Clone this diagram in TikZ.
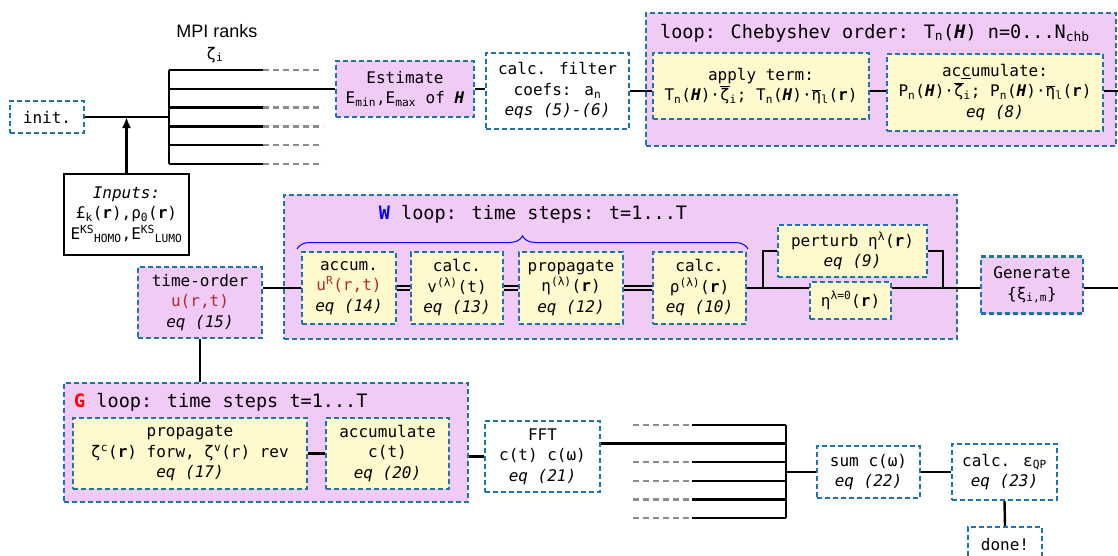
\documentclass[tikz,border=0pt]{standalone}
\usepackage{fontspec}
\setmainfont{DejaVu Sans Mono}
\newfontfamily\rankfont{Liberation Sans}
\usetikzlibrary{arrows.meta,decorations.pathreplacing}

\definecolor{edgeblue}{RGB}{30,114,174}
\definecolor{loopfill}{RGB}{240,203,246}
\definecolor{stepfill}{RGB}{255,250,205}
\definecolor{fieldred}{RGB}{180,40,40}
\definecolor{wblue}{RGB}{0,0,255}
\definecolor{gred}{RGB}{255,0,0}

\newcommand\lo[1]{\textsubscript{#1}}
\newcommand\hi[1]{\textsuperscript{#1}}
\newcommand\bH{\textbf{\textit{H}}}
\newcommand\br{\textbf{r}}
\newcommand\ovl[1]{\vbox{\hrule height 1pt\kern1.2pt\hbox{#1}}}
\newcommand\loopfont{\fontsize{18.5}{22}\selectfont}

\begin{document}
\begin{tikzpicture}[x=1pt,y=-1pt,
    every node/.style={font=\fontsize{16}{20.5}\selectfont,align=center,inner sep=0pt},
    dashbox/.style={draw=edgeblue,line width=2.4pt,dash pattern=on 5pt off 3pt},
    plainbox/.style={dashbox,fill=white},
    pinkbox/.style={dashbox,fill=loopfill},
    loopbox/.style={dashbox,fill=loopfill},
    stepbox/.style={dashbox,fill=stepfill},
    wire/.style={draw=black,line width=2.4pt},
    pair/.style={draw=black,line width=1.8pt,double=loopfill,double distance=2.6pt},
    ghost/.style={draw=black!45,line width=2.4pt,dash pattern=on 6pt off 4pt},
    brace/.style={draw=wblue,line width=1pt,decorate,decoration={brace,amplitude=13pt}}]
  \fill[white] (0,0) rectangle (1118,555);
  \useasboundingbox (0,0) rectangle (1118,555);

  \node[plainbox,minimum width=74,minimum height=32] (init) at (47,117) {init.};
  \node[draw,fill=white,line width=1.2pt,minimum width=125,minimum height=81] (inputs) at (126.5,214.5)
    {\textit{Inputs:}\\ £\lo{k}(\br),ρ\lo{0}(\br)\\ E\hi{KS}\lo{HOMO},E\hi{KS}\lo{LUMO}};
  \node[font=\rankfont\fontsize{18}{20}\selectfont] (ranks) at (217,31) {MPI ranks};
  \node (zeta) at (215,55) {ζ\lo{i}};
  \node[pinkbox,minimum width=138,minimum height=56] (estimate) at (405,88.8)
    {Estimate\\ E\lo{min},E\lo{max} of \bH};
  \node[plainbox,minimum width=143,minimum height=76] (filter) at (557.5,91)
    {calc. filter\\ coefs: a\lo{n}\\ \textit{eqs (5)-(6)}};
  \node[loopbox,minimum width=470,minimum height=133] (chebloop) at (881,79.5) {};
  \node[anchor=west,font=\loopfont] (chebtitle) at (660,33)
    {loop: Chebyshev order: T\lo{n}(\bH) n=0...N\lo{chb}};
  \node[stepbox,minimum width=216,minimum height=66] (apply) at (761,86)
    {apply term:\\ T\lo{n}(\bH)·\ovl{ζ}\lo{i}; T\lo{n}(\bH)·\ovl{η}\lo{l}(\br)};
  \node[stepbox,minimum width=216,minimum height=77] (accum) at (995,92.5)
    {ac\underline{c}umulate:\\ P\lo{n}(\bH)·\ovl{ζ}\lo{i}; P\lo{n}(\bH)·\ovl{η}\lo{l}(\br)\\ \textit{eq (8)}};

  \node[loopbox,minimum width=673,minimum height=144] (wloop) at (620.5,267) {};
  \node[font=\loopfont] (wtitle) at (533,214) {{\color{wblue}\textbf{W}} loop: time steps: t=1...T};
  \draw[brace] (297,249) -- (748,249);
  \node[pinkbox,minimum width=124,minimum height=71] (timeorder) at (200,302.5)
    {time-order\\ {\color{fieldred}u(r,t)}\\ \textit{eq (15)}};
  \node[stepbox,minimum width=94,minimum height=72] (uaccum) at (349,288)
    {accum.\\ {\color{fieldred}u\hi{R}(r,t)}\\ \textit{eq (14)}};
  \node[stepbox,minimum width=92,minimum height=72] (vcalc) at (457,288)
    {calc.\\ v\hi{(λ)}(t)\\ \textit{eq (13)}};
  \node[stepbox,minimum width=104,minimum height=72] (etaprop) at (571,288)
    {propagate\\ η\hi{(λ)}(\br)\\ \textit{eq (12)}};
  \node[stepbox,minimum width=93,minimum height=72] (rhocalc) at (699.5,288)
    {calc.\\ ρ\hi{(λ)}(\br)\\ \textit{eq (10)}};
  \node[stepbox,minimum width=149,minimum height=52] (perturb) at (852.5,251)
    {perturb η\hi{λ}(\br)\\ \textit{eq (9)}};
  \node[stepbox,minimum width=81,minimum height=37] (etazero) at (850.5,300.5) {η\hi{λ=0}(\br)};
  \node[pinkbox,minimum width=102,minimum height=57] (generate) at (1032,285)
    {Generate\\ \{ξ\lo{i,m}\}};
  \coordinate (wjoin) at (957,288);
  \coordinate (wout) at (1118,288);

  \node[loopbox,minimum width=404,minimum height=119] (gloop) at (266,442.5) {};
  \node[anchor=west,font=\loopfont] (gtitle) at (74,402) {{\color{gred}\textbf{G}} loop: time steps t=1...T};
  \node[stepbox,minimum width=234,minimum height=71] (zprop) at (190,453.5)
    {propagate\\ ζ\hi{c}(\br) forw, ζ\hi{v}(r) rev\\ \textit{eq (17)}};
  \node[stepbox,minimum width=123,minimum height=71] (caccum) at (387.5,453.5)
    {accumulate\\ c(t)\\ \textit{eq (20)}};
  \node[plainbox,minimum width=115,minimum height=71] (fft) at (542.5,456.5)
    {FFT\\ c(t) c(ω)\\ \textit{eq (21)}};
  \node[plainbox,minimum width=103,minimum height=52] (csum) at (868.5,472)
    {sum c(ω)\\ \textit{eq (22)}};
  \node[plainbox,minimum width=105,minimum height=56] (qp) at (1004.5,472)
    {calc. ε\lo{QP}\\ \textit{eq (23)}};
  \node[plainbox,minimum width=74,minimum height=36] (done) at (1005,545) {done!};

  % ranks fan out
  \coordinate (tbus) at (169,70);
  \coordinate (tbusend) at (169,164);
  \draw[wire] (tbus) -- (tbusend);
  \foreach \k in {0,...,5}{
    \draw[wire] (169,{70+18.8*\k}) -- (263,{70+18.8*\k});
    \ifnum\k=1\else\draw[ghost] (263,{70+18.8*\k}) -- (323,{70+18.8*\k});\fi
  }
  \draw[wire] (init.east) -- (init.east -| tbus);
  \draw[wire,-{Latex[length=11pt,width=9pt]}] (inputs.north) -- (inputs.north |- init.east);
  \draw[wire] (estimate.west -| tbus) -- (estimate.west);
  \draw[wire] (estimate.east) -- (estimate.east -| filter.west);
  \draw[wire] (filter.east) -- (apply.west |- filter.east);
  \draw[wire] (apply.east |- filter.east) -- (accum.west |- filter.east);
  \draw[wire] (accum.east |- filter.east) -- (1118,91);

  \draw[wire] (timeorder.east |- uaccum.west) -- (uaccum.west);
  \draw[pair] (uaccum.east) -- (vcalc.west);
  \draw[pair] (vcalc.east) -- (etaprop.west);
  \draw[pair] (etaprop.east) -- (rhocalc.west);
  \draw[wire] (rhocalc.east) -- (rhocalc.east -| etazero.west);
  \draw[wire] (rhocalc.east) -- ++(16,0) |- (perturb.west);
  \draw[wire] (perturb.east) -| ([xshift=-14pt]wjoin) -- (wjoin);
  \draw[wire] (etazero.east |- wjoin) -- (wjoin) -- (generate.west |- wjoin);
  \draw[wire] (generate.east |- wjoin) -- (wout);
  \draw[wire] (timeorder.south) -- (timeorder.south |- gloop.north);

  \draw[wire] (zprop.east) -- (caccum.west);
  \draw[wire] (gloop.east |- fft.west) -- (fft.west);

  % ranks gather
  \coordinate (bbus) at (786,425);
  \coordinate (bbusend) at (786,518);
  \draw[wire] (bbus) -- (bbusend);
  \foreach \k in {0,...,5}{
    \draw[wire] (692,{425+18.6*\k}) -- (786,{425+18.6*\k});
    \ifnum\k=1\else\draw[ghost] (633,{425+18.6*\k}) -- (692,{425+18.6*\k});\fi
  }
  \coordinate (fftin) at (786,443.6);
  \draw[wire] (fft.east |- fftin) -- (fftin);
  \draw[wire] (csum.west -| bbus) -- (csum.west);
  \draw[wire] (csum.east) -- (qp.west);
  \draw[wire] (qp.south) -- (done.north);
\end{tikzpicture}
\end{document}
